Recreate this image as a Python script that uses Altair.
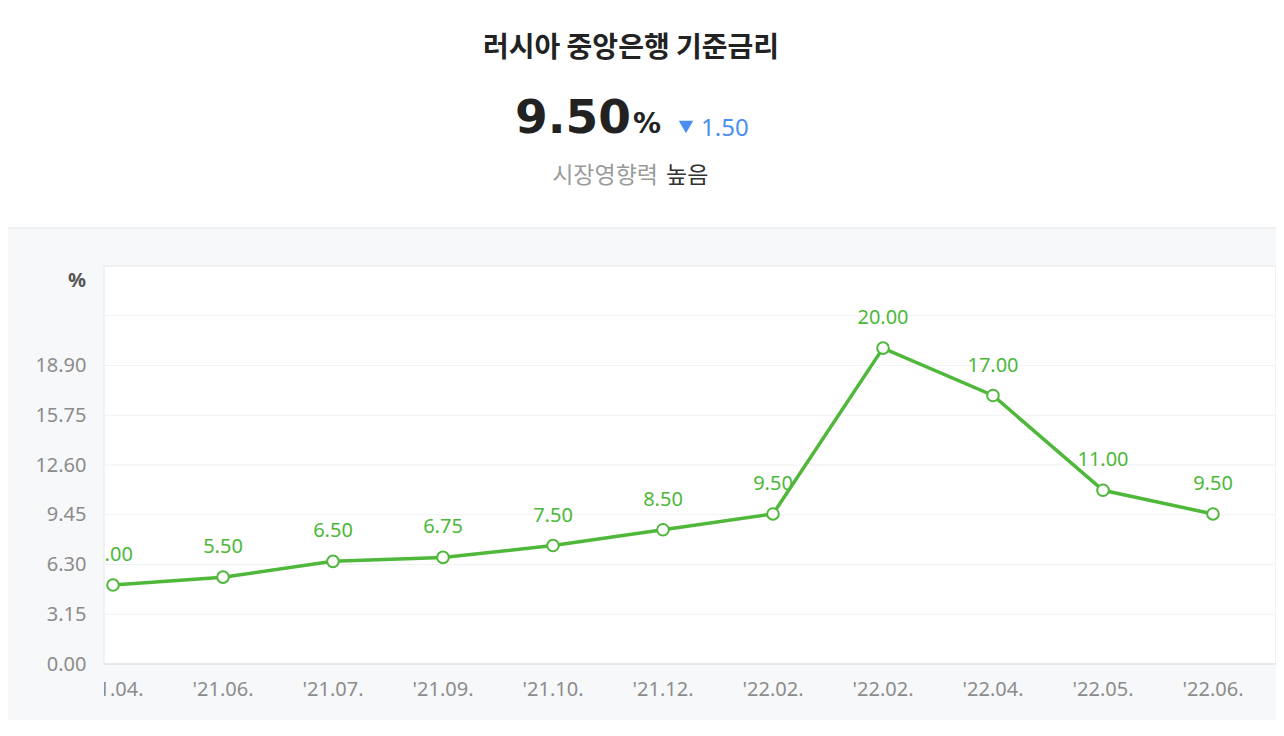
import altair as alt
import pandas as pd

# ---- data ----
categories = ["'21.04.", "'21.06.", "'21.07.", "'21.09.", "'21.10.", "'21.12.",
              "'22.02.", "'22.02.", "'22.04.", "'22.05.", "'22.06."]
rates = [5.00, 5.50, 6.50, 6.75, 7.50, 8.50, 9.50, 20.00, 17.00, 11.00, 9.50]
y_ticks = [0.00, 3.15, 6.30, 9.45, 12.60, 15.75, 18.90]
grid_values = [3.15, 6.30, 9.45, 12.60, 15.75, 18.90, 22.05]
y_top = 25.2

title_text = "러시아 중앙은행 기준금리"
current_value = "9.50"
change_value = "1.50"
influence_label = "시장영향력"
influence_value = "높음"

# ---- geometry ----
W = 1172          # plot area width
PLOT_H = 398      # white plot area height
H = 454           # view height (includes x-label strip, for clipping)
PAD_L, PAD_T, PAD_R = 96, 258, 0
STEP = 110
FIRST = 9         # first point offset from plot left

px_per_unit = PLOT_H / y_top
y_min = -(H - PLOT_H) / px_per_unit

df = pd.DataFrame({"i": list(range(len(categories))), "label": categories, "rate": rates})
grid_df = pd.DataFrame({"rate": grid_values})
one = pd.DataFrame({"k": [0]})

xscale = alt.Scale(domain=[-FIRST / STEP, (W - FIRST) / STEP], nice=False, zero=False)
yscale = alt.Scale(domain=[y_min, y_top], nice=False, zero=False)
X = alt.X("i:Q", scale=xscale, axis=None)

GREEN = "#4fb83b"
LABEL_GREEN = "#4cb83a"
GRAY = "#8c8c8c"
NUM_FONT = "Noto Sans"
KR_FONT = "Noto Sans CJK KR"

yaxis = alt.Axis(values=y_ticks, format=".2f", labelFontSize=20, labelColor=GRAY,
                 labelFont=NUM_FONT, ticks=False, domain=False, grid=False,
                 labelPadding=18, title=None)
Y = alt.Y("rate:Q", scale=yscale, axis=yaxis)

header_bg = alt.Chart(one).mark_rect(color="white").encode(
    x=alt.value(-PAD_L), x2=alt.value(W + PAD_R), y=alt.value(-PAD_T), y2=alt.value(-38))
header_line = alt.Chart(one).mark_rule(color="#eceef1", strokeWidth=1.5).encode(
    x=alt.value(-PAD_L), x2=alt.value(W + PAD_R), y=alt.value(-38))

plot_bg = alt.Chart(one).mark_rect(fill="white", stroke="#eceef1", strokeWidth=1.5).encode(
    x=alt.value(0), x2=alt.value(W), y=alt.value(0), y2=alt.value(PLOT_H))

grid = alt.Chart(grid_df).mark_rule(color="#f1f2f4", strokeWidth=1.2).encode(
    x=alt.value(0), x2=alt.value(W), y=Y)

bottom_line = alt.Chart(one).mark_rule(color="#e6e8eb", strokeWidth=2).encode(
    x=alt.value(0), x2=alt.value(W), y=alt.value(PLOT_H))

line = alt.Chart(df).mark_line(color=GREEN, strokeWidth=3.5, clip=True).encode(x=X, y=Y)

points = alt.Chart(df).mark_point(filled=True, fill="white", stroke=GREEN, strokeWidth=2,
                                  size=135, opacity=1, clip=True).encode(x=X, y=Y)

value_labels = alt.Chart(df).mark_text(color=LABEL_GREEN, fontSize=20, font=NUM_FONT,
                                       dy=-30, baseline="middle", clip=True).encode(
    x=X, y=Y, text=alt.Text("rate:Q", format=".2f"))

x_labels = alt.Chart(df).mark_text(color=GRAY, fontSize=20, font=NUM_FONT,
                                   baseline="middle", clip=True).encode(
    x=X, y=alt.value(424), text="label:N")

unit_label = alt.Chart(one).mark_text(text="%", color="#555555", fontSize=20, font=NUM_FONT,
                                      fontWeight="bold", align="right", baseline="middle").encode(
    x=alt.value(-18), y=alt.value(15))

title_mark = alt.Chart(one).mark_text(text=title_text, color="#222222", fontSize=28, font=KR_FONT,
                                      fontWeight=600, align="center", baseline="middle").encode(
    x=alt.value(527), y=alt.value(-217))

big_num = alt.Chart(one).mark_text(text=current_value, color="#222222", fontSize=47,
                                   font="DejaVu Sans", fontWeight="bold", align="right",
                                   baseline="alphabetic").encode(
    x=alt.value(527), y=alt.value(-133))
pct = alt.Chart(one).mark_text(text="%", color="#222222", fontSize=28, font="DejaVu Sans",
                               fontWeight="bold", align="left", baseline="alphabetic").encode(
    x=alt.value(529), y=alt.value(-133))
tri = alt.Chart(one).mark_point(shape="triangle-down", filled=True, color="#4a8ff0",
                                size=210, opacity=1).encode(
    x=alt.value(582), y=alt.value(-139))
change = alt.Chart(one).mark_text(text=change_value, color="#4a8ff0", fontSize=24, font=NUM_FONT,
                                  align="left", baseline="alphabetic").encode(
    x=alt.value(597), y=alt.value(-130))

sub1 = alt.Chart(one).mark_text(text=influence_label, color="#9a9a9a", fontSize=23, font=KR_FONT,
                                align="right", baseline="middle").encode(
    x=alt.value(554), y=alt.value(-90))
sub2 = alt.Chart(one).mark_text(text=influence_value, color="#333333", fontSize=23, font=KR_FONT,
                                align="left", baseline="middle").encode(
    x=alt.value(562), y=alt.value(-90))

chart = alt.layer(
    header_bg, header_line, plot_bg, grid, bottom_line, line, points, value_labels, x_labels,
    unit_label, title_mark, big_num, pct, tri, change, sub1, sub2
).properties(
    width=W, height=H,
    autosize=alt.AutoSizeParams(type="none"),
    padding={"left": PAD_L, "top": PAD_T, "right": PAD_R, "bottom": 0},
    background="#f7f8fa",
).configure_view(stroke=None)

chart.save("out.html", embed_options={"renderer": "svg", "actions": False})
